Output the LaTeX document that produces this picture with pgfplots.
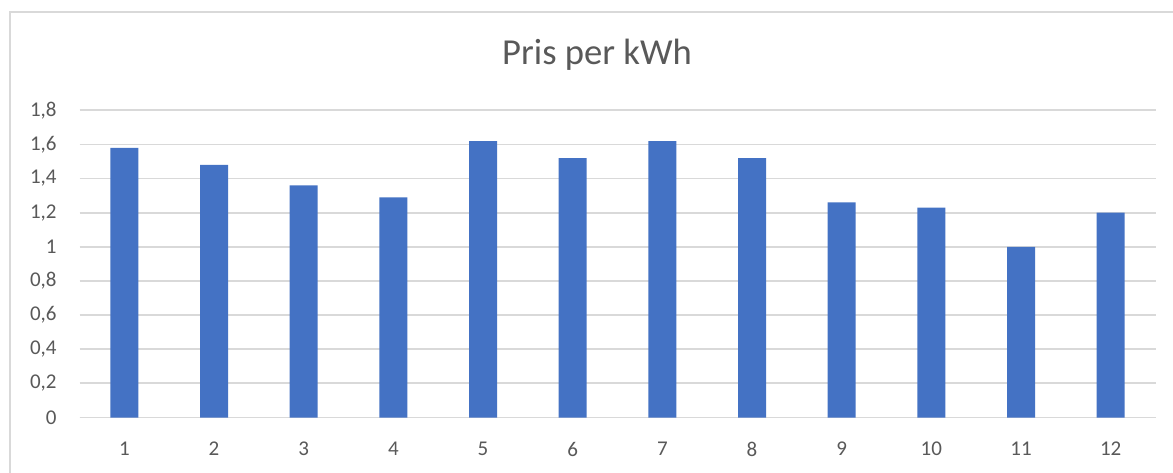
\documentclass[border=0pt]{standalone}
\usepackage{fontspec}
\setmainfont{Carlito}
\usepackage{pgfplots}
\pgfplotsset{compat=1.18}
\definecolor{barblue}{HTML}{4472C4}
\definecolor{txtgray}{HTML}{595959}
\definecolor{gridgray}{HTML}{D9D9D9}
\begin{document}
\begin{tikzpicture}
\useasboundingbox (0,0) rectangle (586.5pt,236pt);
\clip (0,0) rectangle (586.5pt,236pt);
\fill[white] (0,0) rectangle (586.5pt,236pt);
\draw[gridgray, line width=1pt] (5.1pt,-20pt) -- (5.1pt,230.1pt) -- (620pt,230.1pt);
\node[anchor=base, text=txtgray, font=\fontsize{18.3}{21}\selectfont, inner sep=0pt] at (298.5pt,203.5pt) {Pris per kWh};
\begin{axis}[
  at={(39.75pt,27.25pt)}, anchor=south west,
  scale only axis, width=538pt, height=153.6pt,
  xmin=0.5, xmax=12.5, ymin=0, ymax=1.8,
  axis lines=left,
  x axis line style={draw=gridgray, line width=0.9pt, -},
  y axis line style={draw=none},
  ytick={0,0.2,...,1.8},
  xtick={1,...,12},
  ymajorgrids, grid style={gridgray, line width=0.9pt},
  major tick length=0pt,
  tick style={draw=none},
  /pgf/number format/assume math mode=true,
  /pgf/number format/use comma,
  yticklabel={\pgfmathprintnumber[fixed,precision=1,use comma]{\tick}},
  y tick label style={inner sep=0pt, anchor=east, xshift=-11.25pt, text=txtgray, font=\fontsize{10.5}{12}\selectfont},
  x tick label style={inner sep=0pt, anchor=north, yshift=-12pt, text=txtgray, font=\fontsize{10.5}{12}\selectfont},
  clip=false,
]
\addplot[ybar, bar width=14pt, fill=barblue, draw=none] coordinates {
(1,1.58) (2,1.48) (3,1.36) (4,1.29) (5,1.62) (6,1.52)
(7,1.62) (8,1.52) (9,1.26) (10,1.23) (11,1.00) (12,1.20)
};
\end{axis}
\end{tikzpicture}
\end{document}
